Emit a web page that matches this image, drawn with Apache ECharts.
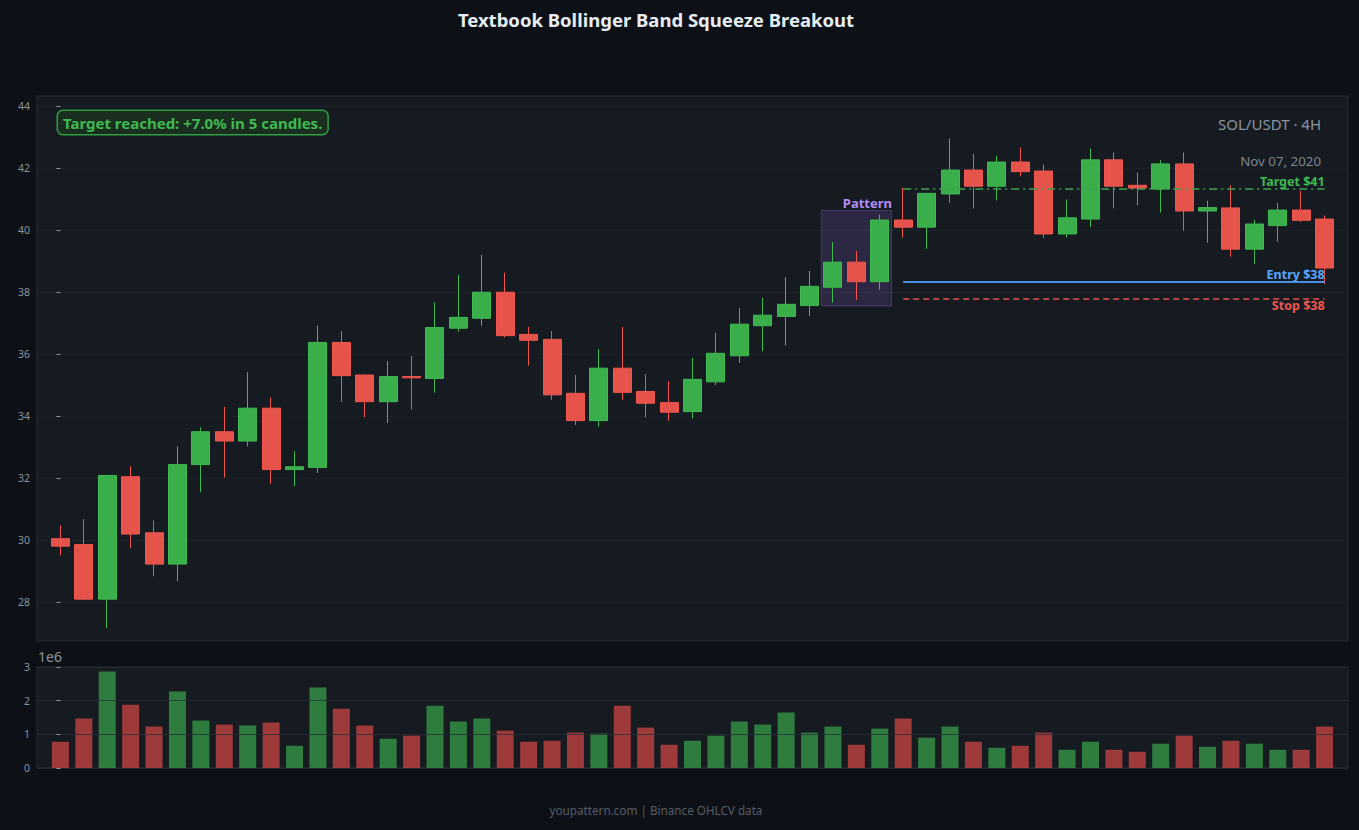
<!DOCTYPE html>
<html>
<head>
<meta charset="utf-8">
<script src="https://cdn.jsdelivr.net/npm/echarts@6/dist/echarts.min.js"></script>
<style>
  html, body { margin: 0; padding: 0; background: #0d1117; }
  #chart { width: 1359px; height: 830px; }
</style>
</head>
<body>
<div id="chart"></div>
<script>
// OHLC, one entry per candle
const opens = [30.04, 29.85, 28.09, 32.04, 30.23, 29.22, 32.43, 33.49, 33.19, 34.25, 32.27, 32.34, 36.37, 35.32, 34.46, 35.27, 35.21, 36.83, 37.15, 37.99, 36.63, 36.47, 34.73, 33.85, 35.54, 34.79, 34.43, 34.14, 35.10, 35.94, 36.91, 37.21, 37.56, 38.15, 38.96, 38.33, 40.32, 40.09, 41.16, 41.93, 41.41, 42.19, 41.90, 39.87, 40.35, 42.26, 41.44, 41.32, 42.13, 40.61, 40.71, 39.38, 40.14, 40.64, 40.35];
const closes = [29.80, 28.09, 32.08, 30.19, 29.22, 32.43, 33.49, 33.19, 34.25, 32.27, 32.36, 36.37, 35.30, 34.46, 35.27, 35.23, 36.85, 37.18, 37.99, 36.59, 36.44, 34.68, 33.85, 35.54, 34.76, 34.41, 34.12, 35.18, 36.02, 36.96, 37.25, 37.60, 38.18, 38.96, 38.33, 40.32, 40.09, 41.18, 41.93, 41.41, 42.19, 41.88, 39.87, 40.39, 42.26, 41.41, 41.35, 42.13, 40.61, 40.72, 39.38, 40.19, 40.64, 40.31, 38.77];
const lows = [29.50, 28.06, 27.16, 29.74, 28.83, 28.67, 31.54, 32.01, 33.02, 31.81, 31.74, 32.16, 34.45, 33.95, 33.77, 34.20, 34.75, 36.72, 36.91, 36.53, 35.62, 34.52, 33.71, 33.65, 34.52, 33.95, 33.84, 33.91, 35.00, 35.71, 36.09, 36.27, 37.22, 37.65, 37.74, 38.07, 39.75, 39.39, 40.88, 40.69, 40.95, 41.73, 39.73, 39.76, 40.09, 40.70, 40.79, 40.56, 39.97, 39.59, 39.14, 38.91, 39.62, 40.26, 38.26];
const highs = [30.47, 30.67, 32.10, 32.38, 30.63, 33.02, 33.63, 34.29, 35.41, 34.60, 32.86, 36.91, 36.74, 35.33, 35.77, 35.93, 37.67, 38.55, 39.20, 38.62, 36.87, 36.74, 35.32, 36.16, 36.87, 35.35, 35.12, 35.87, 36.68, 37.49, 37.81, 38.48, 38.68, 39.61, 39.32, 40.49, 41.36, 41.18, 42.95, 42.46, 42.40, 42.66, 42.11, 40.98, 42.63, 42.50, 41.85, 42.25, 42.50, 40.94, 41.44, 40.33, 40.88, 41.26, 40.46];
const volumes = [780000, 1470000, 2870000, 1880000, 1230000, 2270000, 1410000, 1290000, 1260000, 1350000, 660000, 2390000, 1760000, 1260000, 870000, 960000, 1850000, 1380000, 1470000, 1110000, 780000, 810000, 1050000, 1020000, 1850000, 1200000, 690000, 810000, 960000, 1380000, 1290000, 1650000, 1050000, 1230000, 690000, 1170000, 1470000, 900000, 1230000, 780000, 600000, 660000, 1050000, 540000, 780000, 540000, 480000, 720000, 960000, 630000, 810000, 720000, 540000, 540000, 1230000];

const priceTicks = [28, 30, 32, 34, 36, 38, 40, 42, 44];

// trade setup
const patternRange = [32.5, 35.5];
const patternPrice = [37.55, 40.63];
const levelStart = 36;
const levelEnd = 54;
const targetPrice = 41.34;
const entryPrice = 38.34;
const stopPrice = 37.78;

const UP = '#3aae4a';
const DOWN = '#e5534b';

const candles = opens.map((o, i) => [i, o, closes[i], lows[i], highs[i]]);
const volumeBars = volumes.map((v, i) => ({
  value: [i, v],
  itemStyle: { color: closes[i] >= opens[i] ? '#2e7d3e' : '#9e3a3a' },
}));

const chart = echarts.init(document.getElementById('chart'), null, { renderer: 'svg' });
const font = '"Noto Sans", "Open Sans", sans-serif';

const option = {
  backgroundColor: '#0d1117',
  animation: false,
  textStyle: { fontFamily: font },
  grid: [
    { left: 37, right: 11, top: 96, height: 545, show: true, backgroundColor: '#161b22', borderColor: '#262b33', borderWidth: 1 },
    { left: 37, right: 11, top: 667, height: 101, show: true, backgroundColor: '#161b22', borderColor: '#262b33', borderWidth: 1 },
  ],
  xAxis: [
    { type: 'value', gridIndex: 0, min: -1, max: 55, show: false },
    { type: 'value', gridIndex: 1, min: -1, max: 55, show: false },
  ],
  yAxis: [
    {
      type: 'value',
      gridIndex: 0,
      min: 26.74,
      max: 44.32,
      axisLine: { show: false },
      axisTick: { show: true, length: 4, customValues: priceTicks, lineStyle: { color: '#8b949e' } },
      axisLabel: { customValues: priceTicks, color: '#8b949e', fontSize: 10.5, margin: 7 },
      splitLine: { lineStyle: { color: '#1c2129', width: 1 } },
    },
    {
      type: 'value',
      gridIndex: 1,
      min: 0,
      max: 3000000,
      interval: 1000000,
      z: 3,
      axisLine: { show: false },
      axisTick: { show: true, length: 4, lineStyle: { color: '#8b949e' } },
      axisLabel: { color: '#8b949e', fontSize: 10.5, margin: 7, formatter: (v) => String(v / 1e6) },
      splitLine: { lineStyle: { color: 'rgba(40,46,54,0.8)', width: 1 } },
    },
  ],
  series: [
    {
      type: 'candlestick',
      xAxisIndex: 0,
      yAxisIndex: 0,
      data: candles,
      encode: { x: 0, y: [1, 2, 3, 4] },
      barWidth: 18.5,
      itemStyle: {
        color: UP,
        color0: DOWN,
        borderColor: '#3fb950',
        borderColor0: '#f0564e',
        borderWidth: 1,
      },
      markArea: {
        silent: true,
        itemStyle: { color: 'rgba(163,113,247,0.16)', borderColor: 'rgba(163,113,247,0.28)', borderWidth: 1 },
        label: {
          show: true,
          position: ['100%', 0],
          align: 'right',
          verticalAlign: 'bottom',
          color: '#b58cf5',
          fontWeight: 'bold',
          fontSize: 13,
          fontFamily: font,
        },
        data: [[
          { name: 'Pattern', coord: [patternRange[0], patternPrice[1]] },
          { coord: [patternRange[1], patternPrice[0]] },
        ]],
      },
      markLine: {
        silent: true,
        symbol: 'none',
        label: { fontWeight: 'bold', fontSize: 12.5, fontFamily: font, distance: 0 },
        data: [
          [
            { coord: [levelStart, targetPrice], lineStyle: { color: '#3fa34d', type: [8, 4, 2, 4], width: 1.5 }, label: { show: true, position: 'insideEndTop', formatter: 'Target $41', color: '#3fb950' } },
            { coord: [levelEnd, targetPrice] },
          ],
          [
            { coord: [levelStart, entryPrice], lineStyle: { color: '#4a90e2', type: 'solid', width: 2 }, label: { show: true, position: 'insideEndTop', formatter: 'Entry $38', color: '#58a6ff' } },
            { coord: [levelEnd, entryPrice] },
          ],
          [
            { coord: [levelStart, stopPrice], lineStyle: { color: '#e5534b', type: [6, 4], width: 1.5 }, label: { show: true, position: 'insideEndBottom', formatter: 'Stop $38', color: '#f0564e' } },
            { coord: [levelEnd, stopPrice] },
          ],
        ],
      },
    },
    {
      type: 'bar',
      xAxisIndex: 1,
      yAxisIndex: 1,
      data: volumeBars,
      barWidth: 17,
    },
  ],
  graphic: [
    {
      type: 'text', x: 656, y: 19,
      style: { text: 'Textbook Bollinger Band Squeeze Breakout', fill: '#e6edf3', font: 'bold 18.5px ' + font, textAlign: 'center', textVerticalAlign: 'middle' },
    },
    {
      type: 'text', x: 58, y: 111,
      style: {
        text: 'Target reached: +7.0% in 5 candles.',
        fill: '#3fb950',
        font: 'bold 15px ' + font,
        backgroundColor: '#1a2e1f',
        borderColor: '#2f9e44',
        borderWidth: 1.5,
        borderRadius: 5,
        padding: [4, 5, 4, 5],
      },
    },
    {
      type: 'text', x: 1321, y: 124,
      style: { text: 'SOL/USDT · 4H', fill: '#8b949e', font: '15px ' + font, textAlign: 'right', textVerticalAlign: 'middle' },
    },
    {
      type: 'text', x: 1321, y: 161,
      style: { text: 'Nov 07, 2020', fill: '#7d8590', font: '13.3px ' + font, textAlign: 'right', textVerticalAlign: 'middle' },
    },
    {
      type: 'text', x: 38, y: 656,
      style: { text: '1e6', fill: '#8b949e', font: '14px ' + font, textVerticalAlign: 'middle' },
    },
    {
      type: 'text', x: 656, y: 810,
      style: { text: 'youpattern.com | Binance OHLCV data', fill: '#555c66', font: '11.7px ' + font, textAlign: 'center', textVerticalAlign: 'middle' },
    },
  ],
};

chart.setOption(option);
</script>
</body>
</html>
